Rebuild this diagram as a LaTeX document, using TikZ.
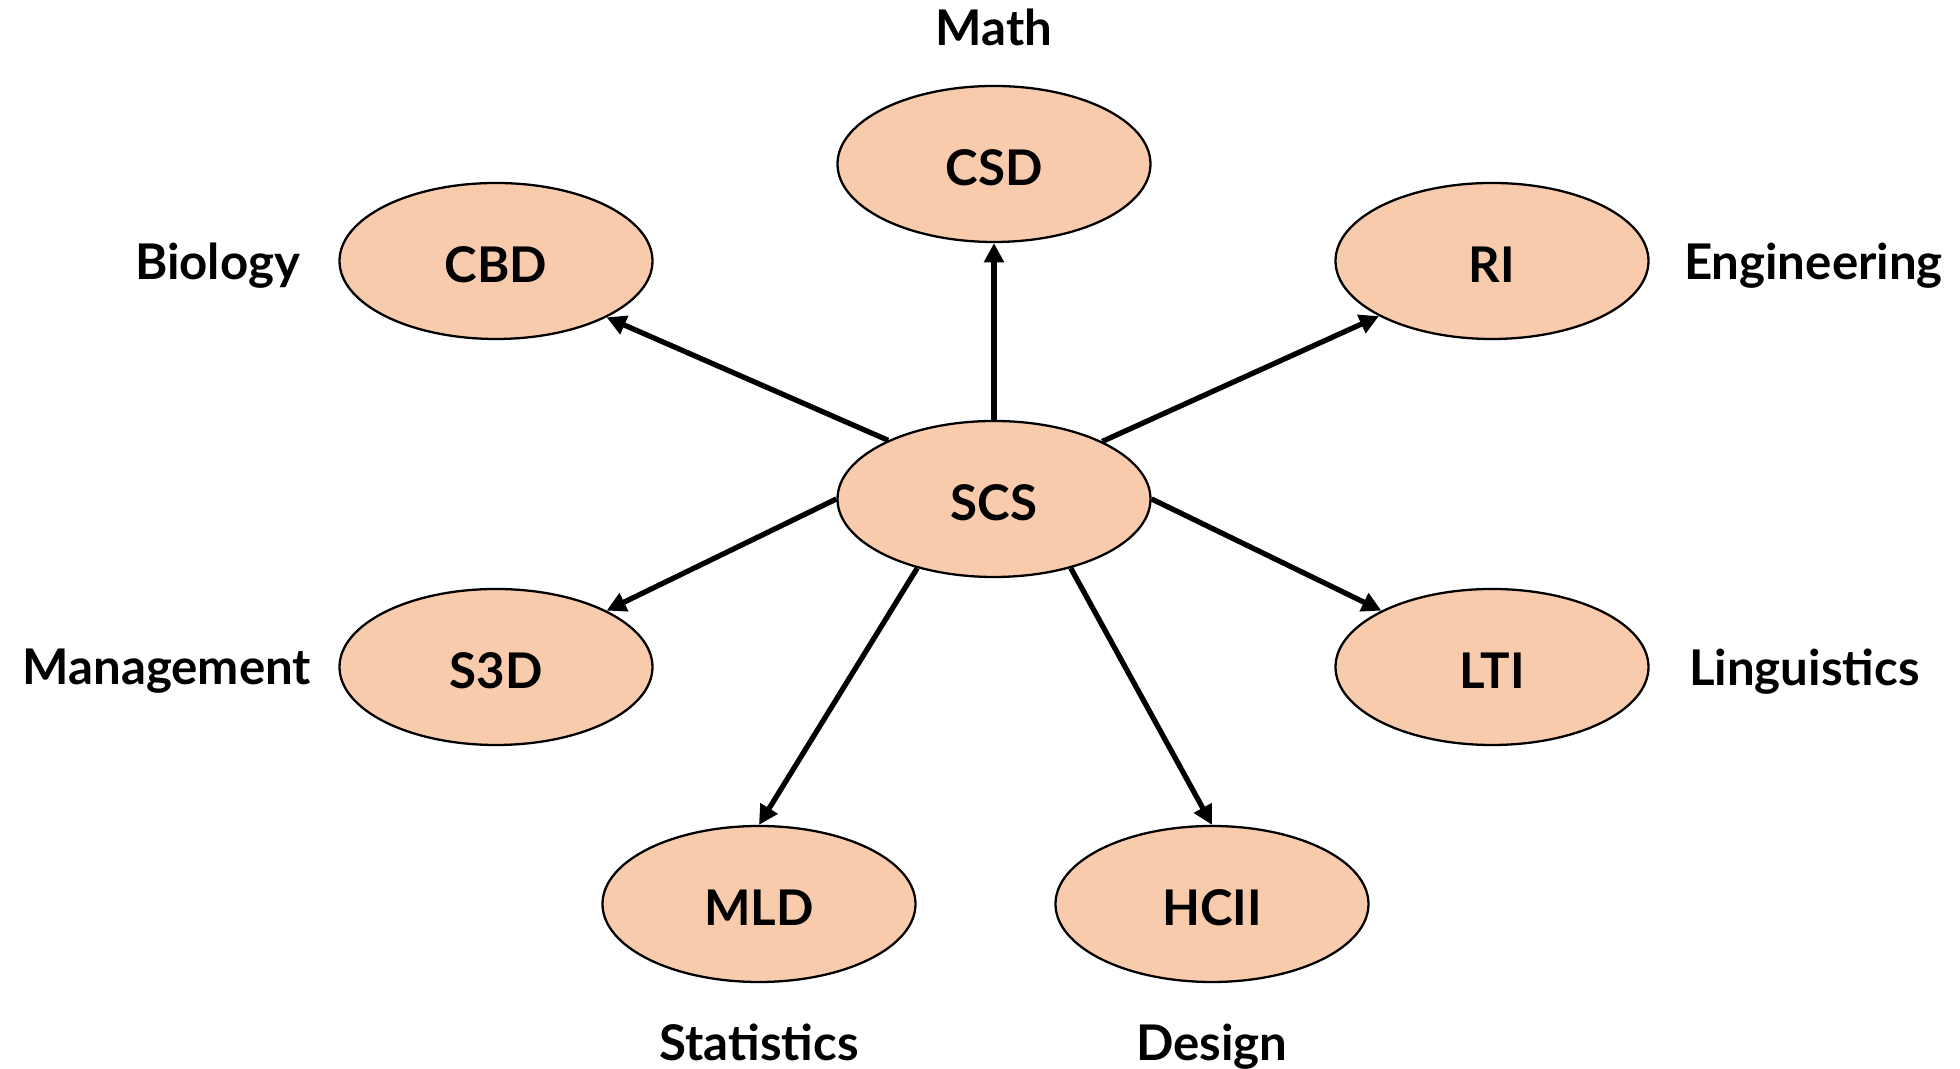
\documentclass[tikz,border=0pt]{standalone}
\usepackage{fontspec}
\setmainfont{Lato}
\usetikzlibrary{arrows.meta,shapes.geometric,positioning}

\definecolor{peach}{HTML}{F8CBAD}

\begin{document}
\begin{tikzpicture}[>={Triangle[length=5.5pt,width=5.5pt]},line width=1.5pt,
	dept/.style={ellipse,draw,line width=0.65pt,fill=peach,minimum width=3.13cm,minimum height=1.56cm,inner sep=0pt,text height=1.25em,font=\fontsize{14}{17}\selectfont\bfseries},
	field/.style={text depth=0pt,font=\fontsize{14}{17}\selectfont\bfseries}]

\useasboundingbox (-9.94,-5.70) rectangle (9.66,4.99);

\node[dept]   (scs)   at (0,0)      		{SCS};
\node[dept]   (csd)   at (0,3.35)      		{CSD};
\node[dept]   (cbd)   at (-4.98,2.38)     	{CBD};
\node[dept]   (ri)    at (4.98,2.38)      	{RI};
\node[dept]   (s3d)   at (-4.98,-1.68)    	{S3D};
\node[dept]   (lti)   at (4.98,-1.68)     	{LTI};
\node[dept]   (mld)   at (-2.35,-4.05)    	{MLD};
\node[dept]   (hcii)  at (2.18,-4.05)     	{HCII};

\node[field]  (math)   [above=0.25cm of csd]   	{Math};
\node[field]  (bio)    [left=0.24cm of cbd]    	{Biology};
\node[field]  (eng)    [right=0.20cm of ri]    	{Engineering};
\node[field]  (mgmt)   [left=0.13cm of s3d]    	{Management};
\node[field]  (ling)   [right=0.25cm of lti]   	{Linguistics};
\node[field]  (stat)   [below=0.265cm of mld]   	{Statistics};
\node[field]  (design) [below=0.265cm of hcii]  	{Design};

	\path[->] (scs.north)  edge   (csd.south)
				(scs.151)  edge   (cbd.333)
				(scs.28)   edge   (ri.206)
				(scs.west) edge   (s3d.27)
				(scs.east) edge   (lti.153)
				(scs.222)  edge   (mld.north)
				(scs.318)  edge   (hcii.north);

\end{tikzpicture}
\end{document}
